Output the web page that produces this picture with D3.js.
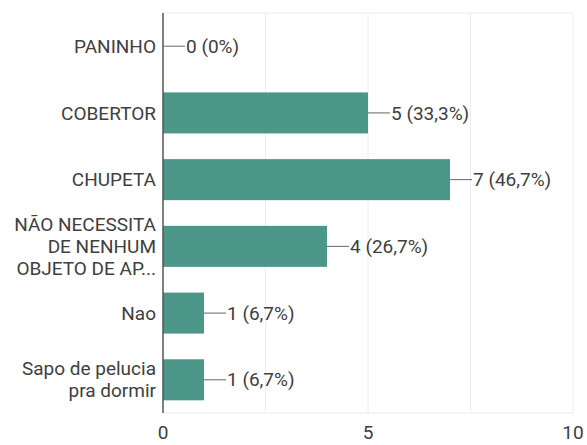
<!DOCTYPE html>
<html>
<head>
<meta charset="utf-8">
<script src="https://cdn.jsdelivr.net/npm/d3@7"></script>
<style>
  html, body { margin: 0; padding: 0; background: #fff; }
  svg { display: block; font-family: Roboto, "Noto Sans", sans-serif; }
</style>
</head>
<body>
<svg id="chart" width="587" height="445"></svg>
<script>
// Survey answers: label lines, counts and percentage text
const categories = [
  ["PANINHO"],
  ["COBERTOR"],
  ["CHUPETA"],
  ["NÃO NECESSITA", "DE NENHUM", "OBJETO DE AP..."],
  ["Nao"],
  ["Sapo de pelucia", "pra dormir"]
];
const counts = [0, 5, 7, 4, 1, 1];
const percents = ["0%", "33,3%", "46,7%", "26,7%", "6,7%", "6,7%"];
const xTicks = [0, 5, 10];
const gridValues = [2.5, 5, 7.5, 10];

const rows = categories.map((c, i) => ({ key: i, lines: c, value: counts[i], pct: percents[i] }));

const svg = d3.select("#chart");
const margin = { left: 163, right: 14, top: 13, bottom: 32 };
const W = 587, H = 445;
const fontSize = 19;
const textColor = "#404040";

const x = d3.scaleLinear().domain([0, 10]).range([margin.left, W - margin.right]);
const y = d3.scaleBand().domain(rows.map(d => d.key))
  .range([margin.top, H - margin.bottom]).paddingInner(0.385).paddingOuter(0.19);

// faint grid
svg.append("g").selectAll("line").data(gridValues).join("line")
  .attr("x1", d => x(d)).attr("x2", d => x(d))
  .attr("y1", margin.top).attr("y2", H - margin.bottom)
  .attr("stroke", "#ececec").attr("stroke-width", 1);
svg.append("g").selectAll("line").data([margin.top, H - margin.bottom]).join("line")
  .attr("x1", margin.left).attr("x2", x(10))
  .attr("y1", d => d).attr("y2", d => d)
  .attr("stroke", "#ececec").attr("stroke-width", 1);

// bars
svg.append("g").selectAll("rect").data(rows).join("rect")
  .attr("x", x(0))
  .attr("y", d => y(d.key))
  .attr("width", d => x(d.value) - x(0))
  .attr("height", y.bandwidth())
  .attr("fill", "#4d978a");

// axis line
svg.append("line")
  .attr("x1", x(0)).attr("x2", x(0))
  .attr("y1", margin.top).attr("y2", H - margin.bottom)
  .attr("stroke", "#555").attr("stroke-width", 1.5);

// value leaders and labels
const val = svg.append("g").selectAll("g").data(rows).join("g")
  .attr("transform", d => `translate(${x(d.value)},${y(d.key) + y.bandwidth() / 2})`);
val.append("line").attr("x1", 0).attr("x2", 22).attr("y1", 0).attr("y2", 0)
  .attr("stroke", "#666").attr("stroke-width", 1);
val.append("text").attr("x", 23).attr("dy", "0.35em")
  .attr("font-size", fontSize).attr("fill", textColor)
  .text(d => `${d.value} (${d.pct})`);

// category labels
const cat = svg.append("g").selectAll("text").data(rows).join("text")
  .attr("text-anchor", "end")
  .attr("font-size", fontSize).attr("fill", textColor)
  .attr("transform", d => `translate(${x(0) - 7},${y(d.key) + y.bandwidth() / 2})`);
cat.selectAll("tspan").data(d => d.lines.map((t, i) => ({ t, i, n: d.lines.length }))).join("tspan")
  .attr("x", 0)
  .attr("y", d => (d.i - (d.n - 1) / 2) * 22)
  .attr("dy", "0.35em")
  .text(d => d.t);

// x tick labels
svg.append("g").selectAll("text").data(xTicks).join("text")
  .attr("x", d => x(d)).attr("y", 439)
  .attr("text-anchor", "middle")
  .attr("font-size", fontSize).attr("fill", textColor)
  .text(d => d);
</script>
</body>
</html>
